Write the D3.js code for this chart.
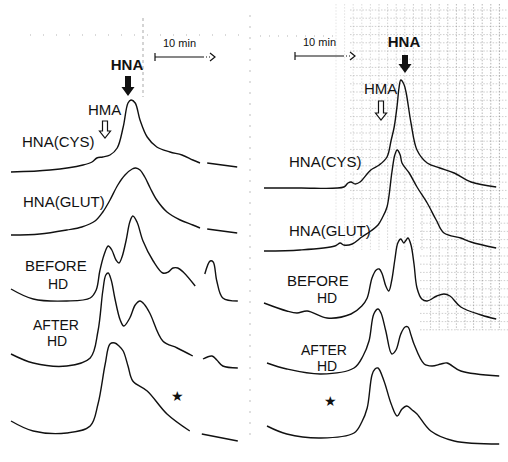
<!DOCTYPE html>
<html>
<head>
<meta charset="utf-8">
<script src="https://cdn.jsdelivr.net/npm/d3@7"></script>
<style>
  body { margin: 0; background: #fff; }
  svg { display: block; }
  .trace { fill: none; stroke: #111; stroke-width: 1.4; stroke-linejoin: round; }
  .lbl { font-family: "Liberation Sans", Arial, sans-serif; font-size: 15px; fill: #111; }
  .grid line { stroke: #777; stroke-width: 0.8; stroke-dasharray: 1.5,1.6; }
</style>
</head>
<body>
<div id="chart"></div>
<script>

WIDTH = 508;
HEIGHT = 462;

// traces: [time (min), detector response (chart units)], null = pen gap

var leftCys = [[0,290],[6.5,292],[12,297],[13.5,300],[14.3,304],[15.3,305],[16.5,307],[17.7,314],
    [18.7,335],[19.5,359],[20,362],[20.7,359],[21.5,342],[22.7,325],[24.3,315],[26.5,310],[28.5,307],
    [30.3,302],[31.5,299],null,[32.7,299],[37.7,295]];

var leftGlut = [[0,227],[4.8,228],[9.3,232],[11.8,235],[14,241],[15.3,250],[16.5,262],[17.8,277],
    [19,287],[20.2,293],[20.8,294],[21.5,292],[22.3,285],[23.2,274],[24.3,262],[26,250],[28.2,242],
    [30.3,237],[31.5,234],null,[32.7,233],[37.7,229]];

var leftBefore = [[0,173],[3.7,163],[9.3,161],[13.2,164],[14.2,172],[14.8,191],[15.5,207],[16.2,216],
    [16.8,212],[17.5,202],[18,199],[18.5,205],[19.2,222],[19.8,240],[20.3,246],[21,240],[22,221],
    [23.7,201],[25.3,189],[26.2,190],[27,194],[27.8,194],[28.7,190],[30.7,176],null,
    [32.3,188],[33.2,201],[33.7,200],[34.3,181],[35.3,164],[37.8,161]];

var leftAfter = [[0,108],[3.7,99],[9.3,96],[13.2,104],[14.5,131],[15.3,171],[15.8,187],[16.2,189],
    [16.7,182],[17.3,164],[18.2,142],[18.8,136],[19.8,144],[20.7,157],[21.5,161],[22.3,157],[23.2,148],
    [25.3,121],[27.7,114],[30.3,106],null,[32,103],[33.5,106],[34.3,102],[35.3,96],[37.8,94]];

var leftStar = [[0,41],[3.7,31],[9.3,29],[13.2,36],[14.5,58],[15.7,98],[16.5,118],[17.3,119],[18,116],
    [18.7,111],[19.5,96],[20.3,81],[22.7,71],[26,48],[29.8,31],null,[31.8,28],[37.8,21]];

var rightCys = [[0,274],[6,274],[13.3,275],[14,279],[14.5,280],[15.2,278],[16,280],[17.8,292],[19.2,297],
    [20.5,305],[21.2,322],[21.7,335],[22.2,357],[22.5,374],[22.8,382],[23.3,378],[23.7,369],[24.5,339],
    [25.5,312],[27.2,299],[29.3,294],[31.7,289],[34.5,280],[38.7,275]];

var rightGlut = [[0,211],[6,212],[11.8,216],[12.7,219],[13.3,217],[14.7,218],[16.3,225],[17.8,231],
    [19,237],[19.7,244],[20.5,255],[21.3,289],[21.8,307],[22.2,312],[22.7,307],[23,299],[24.2,289],
    [25.5,275],[27.2,259],[28.7,242],[30,229],[32.8,224],[34.5,220],[38.7,214]];

var rightBefore = [[0,159],[3.8,151],[5.5,149],[7.2,151],[10.5,144],[14.5,148],[16.3,156],[17.2,164],
    [18,184],[18.7,192],[19.2,193],[19.7,188],[20.3,176],[20.8,171],[21.3,182],[21.8,202],[22.3,219],
    [22.8,223],[23.3,219],[23.7,222],[24,224],[24.5,217],[25,198],[25.5,174],[26.3,163],[27.2,161],
    [28.8,166],[30,168],[31,166],[32.8,155],[36.2,147],[38.7,143]];

var rightAfter = [[0.5,99],[3.8,93],[9.5,88],[15,94],[16.5,106],[17.5,121],[18.3,148],[19,153],[19.5,149],
    [20.3,131],[21.3,108],[22,112],[22.8,128],[23.5,135],[24,135],[24.5,127],[25,118],[26.7,98],[28,96],
    [29.5,98],[30.5,99],[32.8,91],[39.2,86]];

var rightStar = [[0.5,36],[3.8,28],[9.5,24],[15,29],[16.3,40],[17.2,54],[18,87],[18.5,93],[19,94],
    [20,81],[21.2,58],[22.2,46],[23,53],[23.8,56],[24.7,52],[25.5,48],[27.8,31],[31.7,21],[39.2,18]];

var leftLabels = [["HNA(CYS)", 22, 147], ["HNA(GLUT)", 23, 207], ["BEFORE", 25, 271], ["HD", 48, 289],
    ["AFTER", 33, 330], ["HD", 47, 346]];
var rightLabels = [["HNA(CYS)", 289, 167], ["HNA(GLUT)", 289, 236], ["BEFORE", 287, 286], ["HD", 317, 303],
    ["AFTER", 301, 355], ["HD", 317, 371]];


var svg = d3.select("#chart").append("svg")
    .attr("width", WIDTH)
    .attr("height", HEIGHT);

var y = d3.scaleLinear().domain([0, HEIGHT]).range([HEIGHT, 0]);
var xLeft = d3.scaleLinear().domain([0, 39]).range([11, 245]);
var xRight = d3.scaleLinear().domain([0, 39]).range([264, 498]);


// graph paper showing through on the right side of the recording

var grid = svg.append("g").attr("class", "grid");

grid.selectAll("line.v")
    .data(d3.range(336, 508, 8.6))
    .enter().append("line")
    .attr("x1", function(d) { return d; })
    .attr("x2", function(d) { return d; })
    .attr("y1", 4)
    .attr("y2", function(d) { return d > 425 ? 330 : 250; })
    .attr("stroke-opacity", function(d) { return 0.25 + 0.5 * (d - 336) / 172; });

grid.selectAll("line.h")
    .data(d3.range(10, 330, 8.2))
    .enter().append("line")
    .attr("x1", function(d) { return d < 200 ? 350 : 420; })
    .attr("x2", 508)
    .attr("y1", function(d) { return d; })
    .attr("y2", function(d) { return d; })
    .attr("stroke-opacity", 0.45);

// a few stray dotted rulings on the left
grid.append("line").attr("x1", 143).attr("x2", 143).attr("y1", 18).attr("y2", 97)
    .style("stroke-dasharray", "3,3").attr("stroke-opacity", 0.8);
grid.append("line").attr("x1", 250).attr("x2", 250).attr("y1", 15).attr("y2", 440)
    .style("stroke-dasharray", "2,9").attr("stroke-opacity", 0.6);
grid.append("line").attr("x1", 30).attr("x2", 245).attr("y1", 35).attr("y2", 35)
    .style("stroke-dasharray", "1,12").attr("stroke-opacity", 0.7);
grid.append("line").attr("x1", 260).attr("x2", 340).attr("y1", 36).attr("y2", 36)
    .style("stroke-dasharray", "1,8").attr("stroke-opacity", 0.7);


// traces

function draw_traces(x, traces) {
    var line = d3.line()
        .defined(function(d) { return d; })
        .x(function(d) { return x(d[0]); })
        .y(function(d) { return y(d[1]); })
        .curve(d3.curveCatmullRom.alpha(0.5));

    svg.append("g")
        .selectAll("path")
        .data(traces)
        .enter().append("path")
        .attr("class", "trace")
        .attr("d", line);
}

draw_traces(xLeft, [leftCys, leftGlut, leftBefore, leftAfter, leftStar]);
draw_traces(xRight, [rightCys, rightGlut, rightBefore, rightAfter, rightStar]);


// labels

var labels = svg.append("g");

labels.selectAll("text")
    .data(leftLabels.concat(rightLabels))
    .enter().append("text")
    .attr("class", "lbl")
    .attr("x", function(d) { return d[1]; })
    .attr("y", function(d) { return d[2]; })
    .style("font-size", function(d) { return (d[0] == "AFTER" || d[0] == "HD") ? "14px" : null; })
    .text(function(d) { return d[0]; });

function peak_label(cx, top, name) {
    labels.append("text").attr("class", "lbl")
        .attr("x", cx).attr("y", top)
        .attr("text-anchor", "middle")
        .style("font-weight", "bold")
        .text(name);
}

function solid_arrow(cx, y0, y1) {
    var yh = y1 - 9;
    labels.append("path")
        .attr("d", "M" + (cx - 3) + "," + y0 + "L" + (cx + 3) + "," + y0 + "L" + (cx + 3) + "," + yh +
              "L" + (cx + 6.5) + "," + yh + "L" + cx + "," + y1 + "L" + (cx - 6.5) + "," + yh +
              "L" + (cx - 3) + "," + yh + "Z")
        .attr("fill", "#111");
}

function open_arrow(cx, y0, y1) {
    var yh = y1 - 7;
    labels.append("path")
        .attr("d", "M" + (cx - 2.5) + "," + y0 + "L" + (cx + 2.5) + "," + y0 + "L" + (cx + 2.5) + "," + yh +
              "L" + (cx + 5.5) + "," + yh + "L" + cx + "," + y1 + "L" + (cx - 5.5) + "," + yh +
              "L" + (cx - 2.5) + "," + yh + "Z")
        .attr("fill", "#fff")
        .attr("stroke", "#111")
        .attr("stroke-width", 1.2);
}

function scale_bar(x0, yb, xScale) {
    var x1 = x0 + (xScale(10) - xScale(0));
    labels.append("text").attr("class", "lbl")
        .attr("x", x0 + 8).attr("y", yb - 10)
        .style("font-size", "11px")
        .text("10 min");
    labels.append("line").attr("x1", x0).attr("x2", x0).attr("y1", yb - 4).attr("y2", yb + 4)
        .attr("stroke", "#111").attr("stroke-width", 1.2);
    labels.append("line").attr("x1", x0).attr("x2", x1 - 12).attr("y1", yb).attr("y2", yb)
        .attr("stroke", "#111").attr("stroke-width", 1.2);
    labels.append("line").attr("x1", x1 - 12).attr("x2", x1 - 4).attr("y1", yb).attr("y2", yb)
        .attr("stroke", "#111").attr("stroke-width", 1).style("stroke-dasharray", "1,2");
    labels.append("path")
        .attr("d", "M" + (x1 - 5) + "," + (yb - 4) + "L" + x1 + "," + yb + "L" + (x1 - 5) + "," + (yb + 4))
        .attr("fill", "none").attr("stroke", "#111").attr("stroke-width", 1.2);
}

peak_label(127, 70, "HNA");
solid_arrow(128, 76, 96);
labels.append("text").attr("class", "lbl").attr("x", 88).attr("y", 115).text("HMA");
open_arrow(105, 121, 138);
scale_bar(155, 57, xLeft);

peak_label(404, 47, "HNA");
solid_arrow(405, 55, 73);
labels.append("text").attr("class", "lbl").attr("x", 364).attr("y", 94).text("HMA");
open_arrow(381, 101, 120);
scale_bar(295, 56, xRight);

// star marks the trace from the treated sample
labels.selectAll("text.star")
    .data([[177, 396], [330, 401]])
    .enter().append("text")
    .attr("class", "lbl")
    .attr("x", function(d) { return d[0]; })
    .attr("y", function(d) { return d[1] + 5; })
    .attr("text-anchor", "middle")
    .style("font-size", "14px")
    .text("★");

</script>
</body>
</html>
